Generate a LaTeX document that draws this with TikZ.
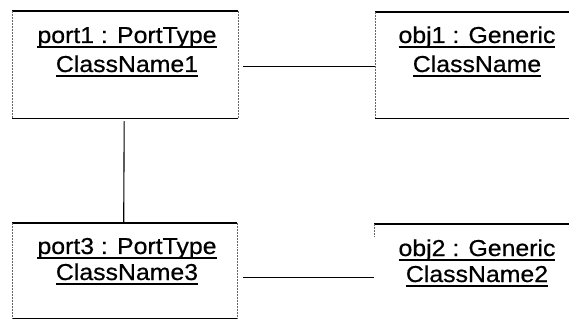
\documentclass[tikz,border=0pt]{standalone}
\usepackage{fontspec}
\newfontfamily\lblfont[FakeStretch=1.08,FakeBold=0.6]{Liberation Sans}
\newcommand\ulx[1]{\setbox0\hbox{#1}\rlap{\rule[-5pt]{\wd0}{1.9pt}}\box0}
\begin{document}
\begin{tikzpicture}[x=1pt,y=1pt,
  box/.style={rectangle,draw=none,inner sep=0pt,anchor=north west},
  lbl/.style={font=\lblfont\fontsize{23}{27}\selectfont,anchor=base,inner sep=0pt},
  hedge/.style={line width=1.1pt,black},
  vedge/.style={line width=0.5pt,black!60,densely dotted},
  conn/.style={line width=1.1pt,black}]
\useasboundingbox (0,0) rectangle (569,329);
% boxes
\node[box,minimum width=226,minimum height=107] (port1) at (12,318) {};
\node[box,minimum width=194,minimum height=106] (obj1) at (375,317) {};
\node[box,minimum width=225,minimum height=95] (port3) at (12,106) {};
\node[box,minimum width=195,minimum height=12] (obj2) at (374,105) {};
% box edges
\foreach \b in {port1,obj1,port3}{
  \draw[hedge] (\b.north west) -- (\b.north east);
  \draw[hedge] (\b.south west) -- (\b.south east);
  \draw[vedge] (\b.north west) -- (\b.south west);
}
\draw[vedge] (port1.north east) -- (port1.south east);
\draw[vedge] (port3.north east) -- (port3.south east);
\draw[hedge] (obj2.north west) -- (obj2.north east);
\draw[vedge] (obj2.north west) -- (obj2.south west);
% labels
\node[lbl] (p1a) at (127,286) {\ulx{port1 : PortType}};
\node[lbl] (p1b) at (127,257) {\ulx{ClassName1}};
\node[lbl] (o1a) at (477,286) {\ulx{obj1 : Generic}};
\node[lbl] (o1b) at (477,257) {\ulx{ClassName}};
\node[lbl] (p3a) at (127,75) {\ulx{port3 : PortType}};
\node[lbl] (p3b) at (127,49) {\ulx{ClassName3}};
\node[lbl] (o2a) at (477,73) {\ulx{obj2 : Generic}};
\node[lbl] (o2b) at (477,47) {\ulx{ClassName2}};
% connectors
\draw[conn] ([xshift=5pt,yshift=-2pt]port1.east) -- ([yshift=-2pt]port1.east -| obj1.west);
\draw[conn] ([xshift=-1pt,yshift=-3pt]port1.south) -- ([xshift=-1pt,yshift=1pt]port3.north);
\draw[conn] ([xshift=6pt]port3.east |- p3b.mid) -- (p3b.mid -| obj2.west);
\end{tikzpicture}
\end{document}
